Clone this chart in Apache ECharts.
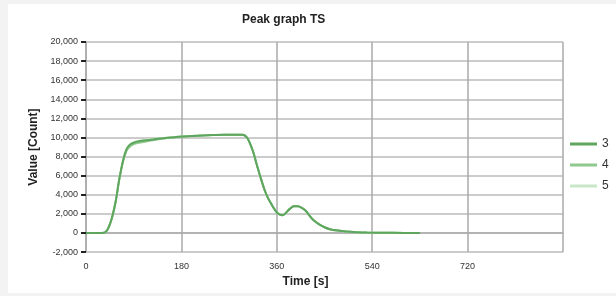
<!DOCTYPE html>
<html>
<head>
<meta charset="utf-8">
<script src="https://cdn.jsdelivr.net/npm/echarts@6/dist/echarts.min.js"></script>
<style>
    html, body { margin: 0; padding: 0; background: #f3f3f3; }
    #peakGraph { position: absolute; left: 8px; top: 4px; width: 608px; height: 289px; background: #fff; }
</style>
</head>
<body>
<div id="peakGraph"></div>
<script>
// 时间轴 (s)
var times = [0, 20, 34, 40, 45, 50, 56, 63, 70, 76, 82, 90, 100, 120, 140, 160, 180, 200, 220, 240, 260, 280, 295,
    300, 305, 310, 316, 322, 330, 337, 343, 350, 358, 365, 371, 377, 384, 392, 400, 408, 415, 422, 430, 440, 450,
    460, 475, 490, 510, 530, 560, 600, 630];
var peak3 = [0, 0, 20, 300, 900, 1800, 3300, 5700, 7600, 8700, 9200, 9450, 9600, 9750, 9900, 10000, 10100, 10150, 10200, 10250, 10300, 10300, 10300,
    10200, 9900, 9300, 8400, 7200, 5700, 4500, 3700, 3000, 2300, 1950, 1850, 2100, 2500, 2800, 2800, 2600, 2300, 1800, 1300, 900, 600,
    400, 250, 150, 80, 40, 20, 10, 0];
var peak4 = [0, 0, 20, 300, 900, 1800, 3300, 5700, 7500, 8550, 9000, 9300, 9450, 9650, 9850, 9980, 10080, 10150, 10200, 10250, 10300, 10300, 10300,
    10200, 9900, 9300, 8400, 7200, 5700, 4500, 3700, 3000, 2300, 1950, 1850, 2100, 2500, 2800, 2800, 2600, 2300, 1800, 1300, 900, 600,
    400, 250, 150, 80, 40, 20, 10, 0];
var peak5 = [0, 0, 20, 300, 900, 1800, 3300, 5700, 7650, 8750, 9250, 9500, 9650, 9800, 9920, 10020, 10100, 10150, 10200, 10250, 10300, 10300, 10300,
    10200, 9900, 9300, 8400, 7200, 5700, 4500, 3700, 3000, 2300, 1950, 1850, 2100, 2500, 2800, 2800, 2600, 2300, 1800, 1300, 900, 600,
    400, 250, 150, 80, 40, 20, 10, 0];
var seriesNames = ['3', '4', '5'];
var xTicks = [0, 180, 360, 540, 720];

function pairs(vals) {
    return times.map(function (t, i) { return [t, vals[i]]; });
}

var myChart = echarts.init(document.getElementById('peakGraph'));
var font = 'Liberation Sans';
var option = {
    animation: false,
    color: ['#5ea65e', '#8fc98f', '#c9e6c9'],
    title: {
        text: 'Peak graph TS',
        left: 229,
        top: 5,
        textStyle: { fontFamily: font, fontSize: 12, fontWeight: 'bold', color: '#222' }
    },
    legend: {
        orient: 'vertical',
        left: 557,
        top: 129,
        icon: 'rect',
        itemWidth: 27,
        itemHeight: 3,
        itemGap: 9,
        data: seriesNames,
        textStyle: { fontFamily: font, fontSize: 12, color: '#333' }
    },
    grid: { left: 78, right: 53, top: 38, bottom: 33 },
    xAxis: {
        type: 'value',
        min: 0,
        max: 900,
        interval: 180,
        name: 'Time [s]',
        nameLocation: 'middle',
        nameGap: 20,
        nameTextStyle: { fontFamily: font, fontSize: 12, fontWeight: 'bold', color: '#222', padding: [0, 38, 0, 0] },
        axisLine: { show: true, lineStyle: { color: '#aaa', width: 1.5 } },
        axisTick: { show: false },
        axisLabel: {
            margin: 10, fontFamily: font, fontSize: 9, color: '#333', showMaxLabel: false,
            formatter: function (v) { return xTicks.indexOf(v) >= 0 ? String(v) : ''; }
        },
        splitLine: { show: true, lineStyle: { color: '#aaa', width: 1.5 } }
    },
    yAxis: {
        type: 'value',
        min: -2000,
        max: 20000,
        interval: 2000,
        name: 'Value [Count]',
        nameLocation: 'middle',
        nameGap: 45,
        nameTextStyle: { fontFamily: font, fontSize: 12, fontWeight: 'bold', color: '#222' },
        axisLine: { show: true, lineStyle: { color: '#aaa', width: 1.5 } },
        axisTick: { show: true, length: 5, lineStyle: { color: '#222', width: 2 } },
        axisLabel: { margin: 8, fontFamily: font, fontSize: 9, color: '#333' },
        splitLine: { show: true, lineStyle: { color: '#bbb', width: 1.5 } }
    },
    series: [
        { name: '3', type: 'line', data: pairs(peak3), smooth: 0.3, symbol: 'none', z: 5, lineStyle: { width: 2 } },
        { name: '4', type: 'line', data: pairs(peak4), smooth: 0.3, symbol: 'none', z: 4, lineStyle: { width: 2 } },
        { name: '5', type: 'line', data: pairs(peak5), smooth: 0.3, symbol: 'none', z: 3, lineStyle: { width: 2 } }
    ]
};
myChart.setOption(option, true);
</script>
</body>
</html>
